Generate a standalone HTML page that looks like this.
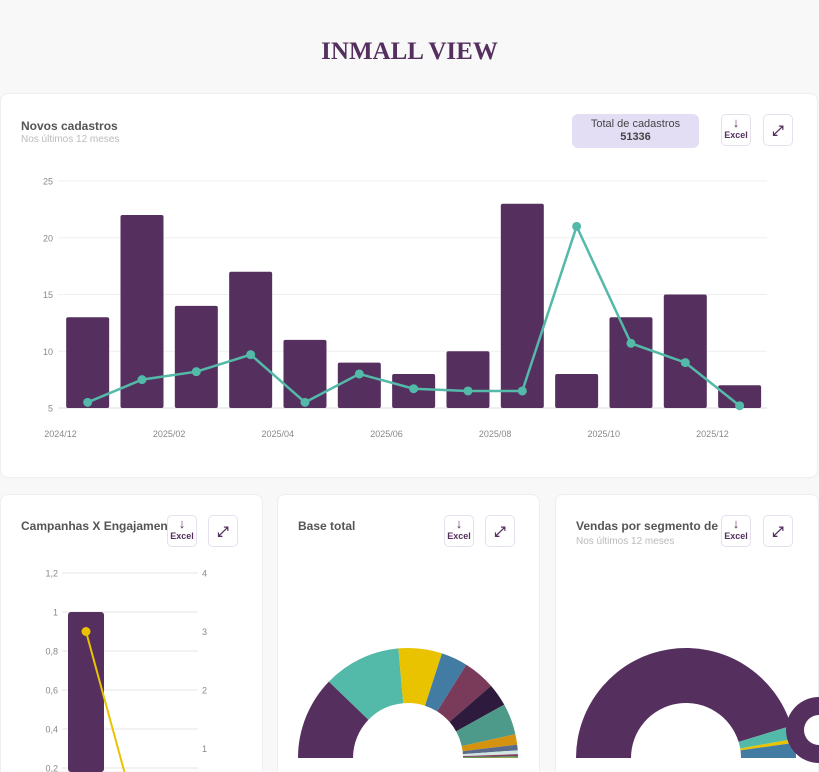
<!DOCTYPE html>
<html><head><meta charset="utf-8">
<style>
body{margin:0;width:819px;height:772px;overflow:hidden;background:#f8f8f8;font-family:"Liberation Sans",sans-serif;position:relative}
.card{position:absolute;background:#fff;border:1px solid #eeeef0;border-radius:8px}
.btn{position:absolute;width:30px;height:30px;border:1px solid #e4e0ee;border-radius:5px;background:#fff;box-sizing:border-box;color:#55305f;font-size:9px;font-weight:bold;text-align:center}
.t{position:absolute;font-size:12px;font-weight:bold;color:#555}
.s{position:absolute;font-size:10px;color:#bbb}
</style></head><body>
<div style="position:absolute;top:38px;width:819px;text-align:center;font-family:'Liberation Serif',serif;font-weight:bold;font-size:25px;color:#55305f">INMALL VIEW</div>

<div class="card" style="left:0;top:93px;width:816px;height:383px"></div>
<div class="t" style="left:21px;top:119px">Novos cadastros</div>
<div class="s" style="left:21px;top:134px">Nos últimos 12 meses</div>
<div style="position:absolute;left:572px;top:114px;width:127px;height:34px;background:#e4def5;border-radius:6px;text-align:center;font-size:11px;color:#444;line-height:13px;padding-top:4px;box-sizing:border-box">Total de cadastros<br><b>51336</b></div>
<div class="btn" style="left:721px;top:114px;height:32px"><div style="font-size:13px;line-height:15px">↓</div>Excel</div>
<div class="btn" style="left:763px;top:114px;height:32px;line-height:30px;font-size:14px">⤢</div>

<svg id="topchart" width="819" height="772" style="position:absolute;left:0;top:0"></svg>

<div class="card" style="left:0;top:494px;width:261px;height:276px;border-bottom:none;border-radius:8px 8px 0 0"></div>
<div class="t" style="left:21px;top:519px">Campanhas X Engajamento</div>
<div class="btn" style="left:167px;top:515px;height:32px"><div style="font-size:13px;line-height:15px">↓</div>Excel</div>
<div class="btn" style="left:208px;top:515px;height:32px;line-height:30px;font-size:14px">⤢</div>

<div class="card" style="left:277px;top:494px;width:261px;height:276px;border-bottom:none;border-radius:8px 8px 0 0"></div>
<div class="t" style="left:298px;top:519px">Base total</div>
<div class="btn" style="left:444px;top:515px;height:32px"><div style="font-size:13px;line-height:15px">↓</div>Excel</div>
<div class="btn" style="left:485px;top:515px;height:32px;line-height:30px;font-size:14px">⤢</div>

<div class="card" style="left:555px;top:494px;width:262px;height:276px;border-bottom:none;border-radius:8px 8px 0 0"></div>
<div class="t" style="left:576px;top:519px;width:146px;overflow:hidden;white-space:nowrap">Vendas por segmento de loja</div>
<div class="s" style="left:576px;top:536px">Nos últimos 12 meses</div>
<div class="btn" style="left:721px;top:515px;height:32px"><div style="font-size:13px;line-height:15px">↓</div>Excel</div>
<div class="btn" style="left:763px;top:515px;height:32px;line-height:30px;font-size:14px">⤢</div>

<svg id="bot" width="819" height="772" style="position:absolute;left:0;top:0"></svg>
<div style="position:absolute;left:786px;top:697px;width:66px;height:66px;border-radius:50%;background:#55305f"><div style="position:absolute;left:18px;top:18px;width:30px;height:30px;border-radius:50%;background:#fff"></div></div>

<script>
const months=["2024/12","2025/01","2025/02","2025/03","2025/04","2025/05","2025/06","2025/07","2025/08","2025/09","2025/10","2025/11","2025/12"];
const barValues=[13,22,14,17,11,9,8,10,23,8,13,15,7];
const lineValues=[5.5,7.5,8.2,9.7,5.5,8,6.7,6.5,6.5,21,10.7,9,5.2];
const yTicks=[5,10,15,20,25];
const campBar=[1];
const campLine=[3];
const campLeftTicks=["1,2","1","0,8","0,6","0,4","0,2"];
const campLeftVals=[1.2,1,0.8,0.6,0.4,0.2];
const campRightTicks=[4,3,2,1];
const baseSlices=[44,41,23,14,17,12,16.5,5.5,3,2,1,0.6,0.4];
const baseColors=["#55305f","#53b9a8","#e9c300","#437ca2","#7a3a5a","#2e1a3c","#4e9a8a","#d4920e","#5a6a8a","#cfe6e2","#8a3a5a","#3a8a5a","#9a9a3a"];
const salesSlices=[163,7,2,8];
const salesColors=["#55305f","#53b9a8","#e9c300","#437ca2"];
const NS="http://www.w3.org/2000/svg";
function mk(p,t,a){const e=document.createElementNS(NS,t);for(const k in a)e.setAttribute(k,a[k]);p.appendChild(e);return e;}
const topSvg=document.getElementById('topchart');
const y=v=>408-(v-5)*11.35;
const band=54.33,x0=60.5;
const xc=i=>x0+band*i+band/2;
yTicks.forEach(v=>{
 const l=mk(topSvg,'line',{x1:58,x2:767,y1:y(v),y2:y(v),stroke:v==5?'#ddd':'#efefef'});
 
 
 const t=mk(topSvg,'text',{x:53,y:y(v)+3.5,'text-anchor':'end','font-size':9,fill:'#888'});t.textContent=v;
 
 
});
months.forEach((m,i)=>{
 if(i%2==0){const t=mk(topSvg,'text',{x:x0+band*i,y:437,'text-anchor':'middle','font-size':9,fill:'#888'});t.textContent=m;
 
 }
});
barValues.forEach((v,i)=>{
 const r=mk(topSvg,'rect',{x:xc(i)-21.5,y:y(v),width:43,height:y(5)-y(v),rx:2,fill:'#55305f'});
 
 
});
const pl=mk(topSvg,'polyline',{points:lineValues.map((v,i)=>xc(i)+','+y(v)).join(' '),fill:'none',stroke:'#53b9a8','stroke-width':2.5});


lineValues.forEach((v,i)=>{const c=mk(topSvg,'circle',{cx:xc(i),cy:y(v),r:4.5,fill:'#53b9a8'});
 
 });

const bot=document.getElementById('bot');
const yl=v=>807-v*195, yr=v=>807-v*58.5;
campLeftVals.forEach((v,i)=>{
 const l=mk(bot,'line',{x1:62,x2:198,y1:yl(v),y2:yl(v),stroke:'#e6e6e6'});
 
 
 const t=mk(bot,'text',{x:58,y:yl(v)+3.5,'text-anchor':'end','font-size':9,fill:'#888'});t.textContent=campLeftTicks[i];
 
 
});
campRightTicks.forEach(v=>{const t=mk(bot,'text',{x:202,y:yr(v)+3.5,'font-size':9,fill:'#888'});t.textContent=v;
 
 });
campBar.forEach(v=>{const r=mk(bot,'rect',{x:68,y:yl(v),width:36,height:772-yl(v),rx:3,fill:'#55305f'});
 
 });
campLine.forEach(v=>{
 const x2=86+(772-yr(v))/((yr(0)-yr(v))*0.75/36);
 const l=mk(bot,'line',{x1:86,y1:yr(v),x2:x2,y2:772,stroke:'#e9c300','stroke-width':2});
 
 
 const c=mk(bot,'circle',{cx:86,cy:yr(v),r:4.5,fill:'#e9c300'});
 
 
});
function donut(cx,cy,R,r,slices,colors,name){
 const tot=slices.reduce((a,b)=>a+b,0);let a=Math.PI;
 slices.forEach((s,i)=>{
  const a2=a-s/tot*Math.PI;
  const p=(ang,rad)=>(cx+rad*Math.cos(ang))+','+(cy-rad*Math.sin(ang));
  const d='M'+p(a,R)+' A'+R+','+R+' 0 0 1 '+p(a2,R)+' L'+p(a2,r)+' A'+r+','+r+' 0 0 0 '+p(a,r)+'Z';
  const e=mk(bot,'path',{d:d,fill:colors[i]});
  
  
  a=a2;
 });
}
donut(408,758,110,55,baseSlices,baseColors,'base-total');
donut(686,758,110,55,salesSlices,salesColors,'sales-segment');
</script>
</body></html>
